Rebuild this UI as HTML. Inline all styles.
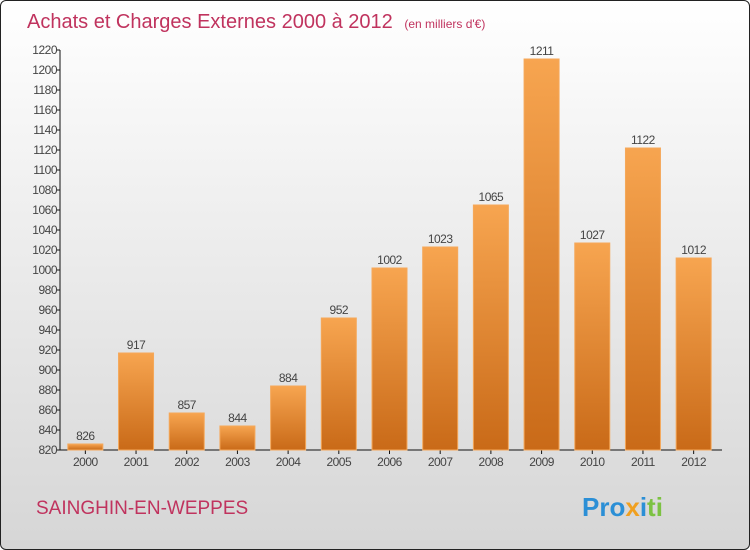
<!DOCTYPE html>
<html><head><meta charset="utf-8"><style>
html,body{margin:0;padding:0;}
body{width:750px;height:550px;overflow:hidden;font-family:"Liberation Sans",sans-serif;}
#frame{position:absolute;left:0;top:0;width:748px;height:548px;border:1px solid #222;border-radius:6px;background:linear-gradient(#ffffff 0%,#eeeeee 40%,#d6d6d6 100%);}
</style></head><body>
<div id="frame"></div>
<svg id="chart" width="750" height="550" style="position:absolute;left:0;top:0">
<defs>
<linearGradient id="bg" x1="0" y1="0" x2="0" y2="1"><stop offset="0" stop-color="#f7a550"/><stop offset="1" stop-color="#c96a18"/></linearGradient>
</defs>
<text x="27" y="28" font-size="20" fill="#c0335e">Achats et Charges Externes 2000 à 2012 <tspan font-size="12" dx="6">(en milliers d'€)</tspan></text>
<text x="36" y="514" font-size="19" fill="#c0335e">SAINGHIN-EN-WEPPES</text>
<g font-size="26" font-weight="bold">
<text x="582" y="516"><tspan fill="#2b8fd6">Pro</tspan><tspan fill="#f0a020">x</tspan><tspan fill="#2b8fd6">i</tspan><tspan fill="#7cc242">ti</tspan></text>
</g>
<g id="axes"></g>
<g id="bars"></g>
</svg>
<script>
const years=["2000","2001","2002","2003","2004","2005","2006","2007","2008","2009","2010","2011","2012"];
const values=[826,917,857,844,884,952,1002,1023,1065,1211,1027,1122,1012];
const yTicks=[820,840,860,880,900,920,940,960,980,1000,1020,1040,1060,1080,1100,1120,1140,1160,1180,1200,1220];
const NS="http://www.w3.org/2000/svg";
const x0=60,x1=719,yMin=820,yMax=1220,py0=450,py1=50;
const slot=(x1-x0)/years.length;
function xc(i){return x0+slot*(i+0.5);}
function y(v){return py0-(v-yMin)/(yMax-yMin)*(py0-py1);}
function mk(t,a){const e=document.createElementNS(NS,t);for(const k in a)e.setAttribute(k,a[k]);return e;}
const ax=document.getElementById('axes'),bg=document.getElementById('bars');
let l=mk('line',{x1:x0,y1:py1,x2:x0,y2:py0,stroke:'#111','stroke-width':1});


ax.appendChild(l);
l=mk('line',{x1:x0,y1:py0,x2:722,y2:py0,stroke:'#111','stroke-width':1});


ax.appendChild(l);
yTicks.forEach(v=>{
 const t=mk('line',{x1:x0-4,y1:y(v),x2:x0,y2:y(v),stroke:'#111'});
 
 
 ax.appendChild(t);
 const tx=mk('text',{x:x0-3,y:y(v)+4,'font-size':12,fill:'#444','text-anchor':'end','letter-spacing':'-0.5'});
 tx.textContent=v;
 
 
 ax.appendChild(tx);
});
years.forEach((yr,i)=>{
 const t=mk('line',{x1:xc(i),y1:py0,x2:xc(i),y2:py0+4,stroke:'#111'});
 
 
 ax.appendChild(t);
 const tx=mk('text',{x:xc(i),y:py0+16,'font-size':12,fill:'#444','text-anchor':'middle','letter-spacing':'-0.5'});
 tx.textContent=yr;
 
 
 ax.appendChild(tx);
 const v=values[i],bw=35;
 const r=mk('rect',{x:xc(i)-bw/2,y:y(v),width:bw,height:py0-y(v),fill:'url(#bg)',stroke:'#f5a85a','stroke-width':1});
 
 
 bg.appendChild(r);
 const lb=mk('text',{x:xc(i),y:y(v)-4,'font-size':12,fill:'#444','text-anchor':'middle','letter-spacing':'-0.5'});
 lb.textContent=v;
 
 
 bg.appendChild(lb);
});
</script>
</body></html>
